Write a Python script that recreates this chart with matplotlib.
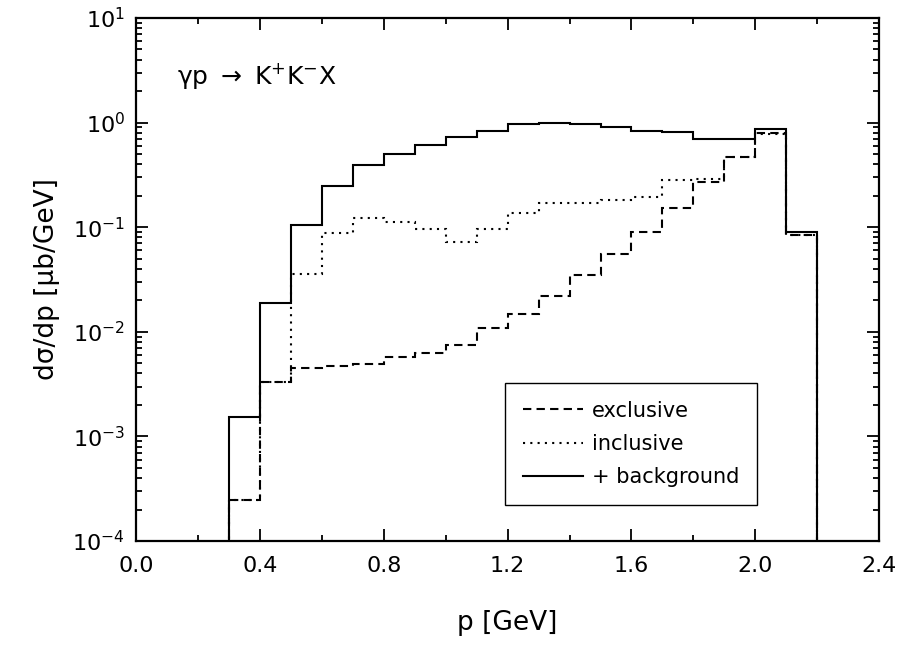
import matplotlib
matplotlib.use("Agg")
import matplotlib.pyplot as plt
from matplotlib.ticker import LogLocator, NullFormatter, MultipleLocator

# bin edges in p [GeV]
p_edges = [0.3, 0.4, 0.5, 0.6, 0.7, 0.8, 0.9, 1.0, 1.1, 1.2, 1.3,
           1.4, 1.5, 1.6, 1.7, 1.8, 1.9, 2.0, 2.1, 2.2]

# d sigma / dp [mub/GeV] per bin
exclusive = [2.45e-4, 3.33e-3, 4.54e-3, 4.75e-3, 4.95e-3, 5.78e-3, 6.25e-3,
             7.55e-3, 0.0109, 0.0148, 0.022, 0.0352, 0.0559, 0.0895, 0.154,
             0.273, 0.464, 0.79, 0.085]
inclusive = [2.45e-4, 3.33e-3, 0.0357, 0.0887, 0.122, 0.113, 0.0957, 0.0728,
             0.0957, 0.136, 0.172, 0.17, 0.182, 0.196, 0.284, 0.288, 0.464,
             0.78, 0.084]
background = [1.54e-3, 0.0187, 0.104, 0.248, 0.397, 0.506, 0.617, 0.736,
              0.84, 0.967, 0.989, 0.98, 0.906, 0.84, 0.817, 0.695, 0.69,
              0.867, 0.0895]

labels = ["exclusive", "inclusive", "+ background"]

plt.rcParams["font.family"] = ["DejaVu Sans"]

fig = plt.figure(figsize=(9.04, 6.47), dpi=100)
ax = fig.add_axes([0.1504, 0.1638, 0.8222, 0.8084])

lw = 1.5
ax.stairs(exclusive, p_edges, baseline=1e-6, color="black", lw=lw,
          linestyle=(0, (4, 2.5)), label=labels[0])
ax.stairs(inclusive, p_edges, baseline=1e-6, color="black", lw=lw,
          linestyle=(0, (1, 2.5)), label=labels[1])
ax.stairs(background, p_edges, baseline=1e-6, color="black", lw=lw,
          linestyle="-", label=labels[2])

ax.set_yscale("log")
ax.set_xlim(0.0, 2.4)
ax.set_ylim(1e-4, 10)

ax.xaxis.set_major_locator(MultipleLocator(0.4))
ax.xaxis.set_minor_locator(MultipleLocator(0.2))
ax.xaxis.set_major_formatter(plt.FormatStrFormatter("%.1f"))
ax.yaxis.set_major_locator(LogLocator(base=10, numticks=10))
ax.yaxis.set_minor_locator(LogLocator(base=10, subs=range(2, 10), numticks=20))
ax.yaxis.set_minor_formatter(NullFormatter())

ax.tick_params(which="both", direction="in", top=True, right=True,
               width=1.3, labelsize=16)
ax.tick_params(which="major", length=8.5)
ax.tick_params(axis="x", which="major", pad=11)
ax.tick_params(axis="y", which="major", pad=8)
ax.tick_params(which="minor", length=4.5)
for s in ax.spines.values():
    s.set_linewidth(1.6)

ax.set_xlabel("p [GeV]", fontsize=19, labelpad=24)
ax.set_ylabel("dσ/dp [μb/GeV]", fontsize=19, labelpad=9)

ax.text(0.055, 0.89, r"γp $\rightarrow$ K$^{+}$K$^{-}$X",
        transform=ax.transAxes, fontsize=18, va="center", ha="left")

leg = ax.legend(loc="upper left", bbox_to_anchor=(0.4966, 0.302),
                borderaxespad=0, fontsize=15, frameon=True, fancybox=False,
                edgecolor="black", framealpha=1, handlelength=2.9,
                handletextpad=0.4, labelspacing=0.64, borderpad=0.85)
leg.get_frame().set_linewidth(1.0)

fig.savefig("out.png", dpi=100)
